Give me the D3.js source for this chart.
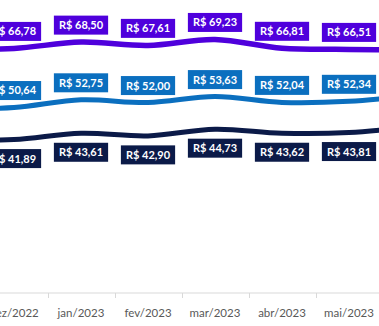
<!DOCTYPE html>
<html>
<head>
<meta charset="utf-8">
<script src="https://cdn.jsdelivr.net/npm/d3@7"></script>
<style>
  html, body { margin: 0; padding: 0; background: #fff; }
  svg { display: block; overflow: hidden; }
</style>
</head>
<body>
<svg id="chart" width="379" height="326"></svg>
<script>
// Monthly average values (R$) for three series; the first and last months sit outside the visible window
const months = ["nov/2022", "dez/2022", "jan/2023", "fev/2023", "mar/2023", "abr/2023", "mai/2023", "jun/2023"];
const topSeries = [66.5, 66.78, 68.50, 67.61, 69.23, 66.81, 66.51, 66.3];
const midSeries = [50.3, 50.64, 52.75, 52.00, 53.63, 52.04, 52.34, 54.0];
const lowSeries = [41.7, 41.89, 43.61, 42.90, 44.73, 43.62, 43.81, 45.5];
const shownMonths = ["dez/2022", "jan/2023", "fev/2023", "mar/2023", "abr/2023", "mai/2023"];

const series = [
  { values: topSeries, color: "#4f00dc", width: 5.5, labelPos: "above" },
  { values: midSeries, color: "#0b6fbf", width: 5, labelPos: "above" },
  { values: lowSeries, color: "#0b1a48", width: 5, labelPos: "below" }
];

const svg = d3.select("#chart");
const W = 379;

const x = d3.scaleBand().domain(months).range([-86.5, 449.5]).paddingInner(0).paddingOuter(0);
const cx = m => x(m) + x.bandwidth() / 2;
const y = d3.scaleLinear().domain([0, 80]).range([293, 0]);

// Category axis
const axisY = y(0);
svg.append("line")
  .attr("x1", 0).attr("x2", W)
  .attr("y1", axisY).attr("y2", axisY)
  .attr("stroke", "#d9d9d9").attr("stroke-width", 1);

svg.append("g").selectAll("line")
  .data(months.slice(0, -1))
  .join("line")
  .attr("x1", d => Math.round(x(d) + x.bandwidth()) + 0.5)
  .attr("x2", d => Math.round(x(d) + x.bandwidth()) + 0.5)
  .attr("y1", axisY).attr("y2", axisY + 5)
  .attr("stroke", "#d9d9d9").attr("stroke-width", 1);

svg.append("g").selectAll("text")
  .data(shownMonths)
  .join("text")
  .attr("x", d => cx(d))
  .attr("y", 317)
  .attr("text-anchor", "middle")
  .attr("font-family", "Lato, 'Open Sans', sans-serif")
  .attr("font-size", 11.5)
  .attr("fill", "#595959")
  .text(d => d);

// Smoothed lines
const line = d3.line()
  .x((d, i) => cx(months[i]))
  .y(d => y(d))
  .curve(d3.curveCatmullRom.alpha(0.5));

series.forEach(s => {
  svg.append("path")
    .datum(s.values)
    .attr("d", line)
    .attr("fill", "none")
    .attr("stroke", s.color)
    .attr("stroke-width", s.width)
    .attr("stroke-linecap", "round");
});

// Value labels in filled boxes
const fmt = v => "R$ " + v.toFixed(2).replace(".", ",");
series.forEach(s => {
  const g = svg.append("g");
  months.forEach((m, i) => {
    if (!shownMonths.includes(m)) return;
    const v = s.values[i];
    const cy = y(v) + (s.labelPos === "above" ? -17 : 19);
    const lg = g.append("g").attr("transform", `translate(${cx(m)},${cy})`);
    const t = lg.append("text")
      .attr("text-anchor", "middle")
      .attr("dy", "0.36em")
      .attr("font-family", "Lato, 'Open Sans', sans-serif")
      .attr("font-weight", 700)
      .attr("font-size", 11)
      .attr("fill", "#ffffff")
      .text(fmt(v));
    const tw = t.node().getComputedTextLength();
    const bw = Math.max(52, tw + 10), bh = 19;
    lg.insert("rect", "text")
      .attr("x", -bw / 2).attr("y", -bh / 2)
      .attr("width", bw).attr("height", bh)
      .attr("fill", s.color);
  });
});
</script>
</body>
</html>
